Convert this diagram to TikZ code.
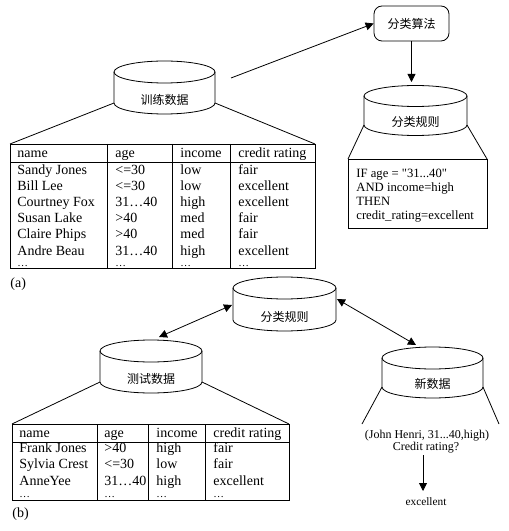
\documentclass[tikz,border=0pt]{standalone}
\usepackage{fontspec}
\setmainfont{Liberation Serif}
\newfontfamily\cjk{Noto Sans CJK SC}
\usetikzlibrary{arrows.meta}
\newcommand\dbcyl[7]{%
  \draw ({#2},{-#3}) ellipse [x radius=#4, y radius=#5];
  \draw ({#2-#4},{-#3}) -- ({#2-#4},{-(#3+#6)}) arc[start angle=180,end angle=360,x radius=#4,y radius=#5] -- ({#2+#4},{-#3});
  \node[cjklabel] (#1) at ({#2},{-(#3+#6-3)}) {#7};
  \coordinate (#1-bl) at ({#2-#4},{-(#3+#6)});
  \coordinate (#1-br) at ({#2+#4},{-(#3+#6)});
}
\tikzset{
  cjklabel/.style={inner sep=0pt, font=\cjk\fontsize{9}{10}\selectfont},
  tabtext/.style={anchor=base west, inner sep=0pt, font=\fontsize{10.5}{12}\selectfont},
  dottext/.style={anchor=base west, inner sep=0pt, font=\fontsize{8}{9}\selectfont},
  ruletext/.style={anchor=base west, inner sep=0pt, font=\fontsize{9.5}{11}\selectfont},
  newtext/.style={anchor=base, inner sep=0pt, font=\fontsize{9}{10}\selectfont},
  arr/.style={-{Triangle[length=6pt,width=6pt]}},
  darr/.style={{Triangle[length=6pt,width=6pt]}-{Triangle[length=6pt,width=6pt]}},
  every path/.style={line width=0.6pt},
}
\begin{document}
\begin{tikzpicture}[x=0.75pt,y=0.75pt]
\useasboundingbox (0,0) rectangle (509,-531);
\fill[white] (0,0) rectangle (509,-531);

% ---------- (a) ----------
\dbcyl{train}{164.5}{72}{50.5}{11}{31}{训练数据}
\node[draw, rounded corners=6pt, minimum width=56.25pt, minimum height=26.25pt, inner sep=0pt, font=\cjk\fontsize{9}{10}\selectfont] (algo) at (411.5,-23.5) {分类算法};
\dbcyl{rulesA}{415.5}{96}{51.5}{10.5}{29}{分类规则}

\coordinate (trainout) at (231,-78);
\draw[arr] (trainout) -- (algo.west);
\coordinate (rulesAin) at (411.5,-82);
\draw[arr] (algo.south) -- (rulesAin);

% training table
\coordinate (tA-nw) at (10,-144);
\coordinate (tA-ne) at (315,-144);
\coordinate (tA-se) at (315,-268);
\draw (tA-nw) rectangle (tA-se);
\draw (10,-162) -- (315,-162);
\draw (107,-144) -- (107,-268);
\draw (172,-144) -- (172,-268);
\draw (230,-144) -- (230,-268);
\draw (train-bl) -- (tA-nw);
\draw (train-br) -- (tA-ne);

\foreach \y/\a/\b/\c/\d in {157/name/age/income/credit rating,
  174/Sandy Jones/<=30/low/fair,
  190/Bill Lee/<=30/low/excellent,
  206/Courtney Fox/31\dots40/high/excellent,
  222/Susan Lake/>40/med/fair,
  238.5/Claire Phips/>40/med/fair,
  255/Andre Beau/31\dots40/high/excellent}{
  \node[tabtext] (ta\y a) at (17,-\y) {\a};
  \node[tabtext] (ta\y b) at (115,-\y) {\b};
  \node[tabtext] (ta\y c) at (180,-\y) {\c};
  \node[tabtext] (ta\y d) at (238,-\y) {\d};
}
\node[dottext] (tadota) at (17,-266) {\dots};
\node[dottext] (tadotb) at (115,-266) {\dots};
\node[dottext] (tadotc) at (180,-266) {\dots};
\node[dottext] (tadotd) at (238,-266) {\dots};

% rules box
\coordinate (rA-nw) at (348,-159);
\coordinate (rA-ne) at (487,-159);
\coordinate (rA-se) at (487,-228);
\draw (rA-nw) rectangle (rA-se);
\draw (rulesA-bl) -- (rA-nw);
\draw (rulesA-br) -- (rA-ne);
\node[ruletext] (r1) at (356,-177) {IF age = \textquotedbl31...40\textquotedbl};
\node[ruletext] (r2) at (356,-191) {AND income=high};
\node[ruletext] (r3) at (356,-205) {THEN};
\node[ruletext] (r4) at (356,-219) {credit\_rating=excellent};

\node[tabtext] (labA) at (10,-287) {(a)};

% ---------- (b) ----------
\dbcyl{rulesB}{284.5}{288}{51.5}{11}{32}{分类规则}
\dbcyl{test}{151}{351}{51}{11}{31}{测试数据}
\dbcyl{newd}{432.5}{358}{50.5}{11}{29}{新数据}

\coordinate (rB-l) at (232,-305);
\coordinate (test-t) at (159,-337);
\draw[darr] (rB-l) -- (test-t);
\coordinate (rB-r) at (337,-299);
\coordinate (new-t) at (416,-345);
\draw[darr] (rB-r) -- (new-t);

% test table
\coordinate (tB-nw) at (12,-424);
\coordinate (tB-ne) at (289,-424);
\coordinate (tB-se) at (289,-500);
\draw (tB-nw) rectangle (tB-se);
\draw (12,-442) -- (289,-442);
\draw (97,-424) -- (97,-500);
\draw (148,-424) -- (148,-500);
\draw (205,-424) -- (205,-500);
\draw (test-bl) -- (tB-nw);
\draw (test-br) -- (tB-ne);

\foreach \y/\a/\b/\c/\d in {437/name/age/income/credit rating,
  452/Frank Jones/>40/high/fair,
  468.5/Sylvia Crest/<=30/low/fair,
  485/AnneYee/31\dots40/high/excellent}{
  \node[tabtext] (tb\y a) at (19,-\y) {\a};
  \node[tabtext] (tb\y b) at (104,-\y) {\b};
  \node[tabtext] (tb\y c) at (156,-\y) {\c};
  \node[tabtext] (tb\y d) at (213,-\y) {\d};
}
\node[dottext] (tbdota) at (19,-497) {\dots};
\node[dottext] (tbdotb) at (104,-497) {\dots};
\node[dottext] (tbdotc) at (156,-497) {\dots};
\node[dottext] (tbdotd) at (213,-497) {\dots};

% new data
\coordinate (nd-l) at (362,-424);
\coordinate (nd-r) at (499,-424);
\draw (newd-bl) -- (nd-l);
\draw (newd-br) -- (nd-r);
\node[newtext] (q1) at (427,-438) {(John Henri, 31...40,high)};
\node[newtext] (q2) at (426,-450) {Credit rating?};
\node[newtext, font=\fontsize{8.5}{10}\selectfont] (ans) at (426,-505) {excellent};
\coordinate (qstart) at (423,-455);
\coordinate (qend) at (423,-491);
\draw[arr] (qstart) -- (qend);

\node[tabtext] (labB) at (12,-517) {(b)};
\end{tikzpicture}
\end{document}
